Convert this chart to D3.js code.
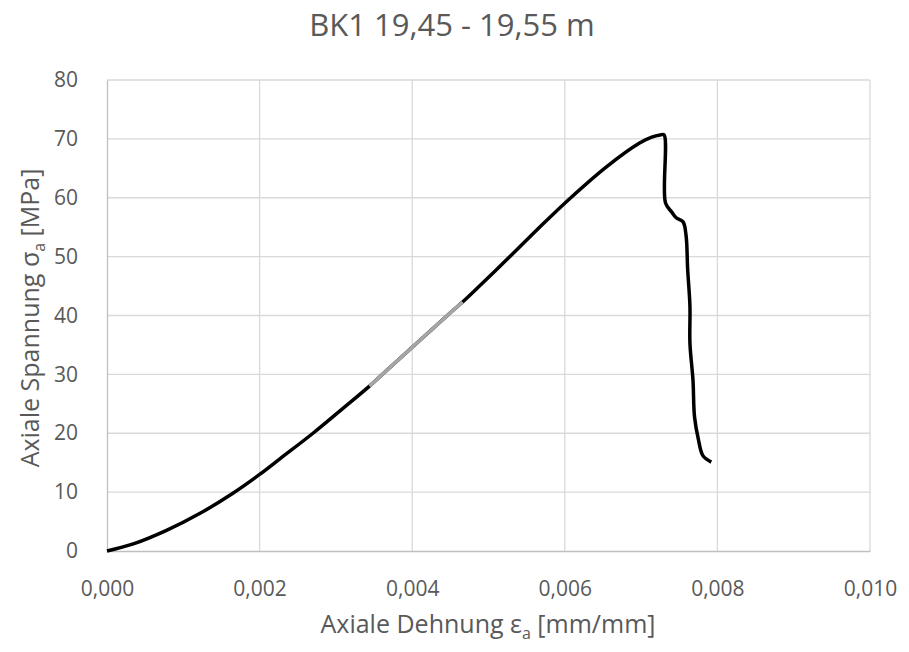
<!DOCTYPE html>
<meta charset="utf-8">
<script src="https://d3js.org/d3.v7.min.js"></script>
<style>
    body { margin: 0; background: #fff; }
    text { font-family: "Open Sans", "Noto Sans", sans-serif; fill: #595959; }
</style>
<div id="chart"></div>
<script>
    // measured curve (strain in mm/mm, stress in MPa)
    const strain = [0, 0.000345, 0.00078, 0.00122, 0.00166, 0.00200, 0.00227, 0.00270, 0.00310,
        0.00344, 0.00360, 0.00400, 0.00446, 0.00466, 0.00480, 0.00524, 0.00567, 0.00606,
        0.00655, 0.00698, 0.00714, 0.00725, 0.00730,
        0.00732, 0.00740, 0.00746, 0.00755, 0.00759, 0.00761, 0.00764, 0.00764,
        0.00768, 0.00770, 0.00775, 0.00781, 0.00792];
    const stress = [0, 1.2, 3.5, 6.4, 9.9, 13.0, 15.7, 20.0, 24.3,
        28.0, 29.9, 34.6, 40.0, 42.3, 44.0, 49.5, 55.0, 59.8,
        65.3, 69.3, 70.3, 70.66, 70.7,
        59.1, 57.6, 56.6, 55.9, 53.5, 47.9, 41.6, 35.3,
        29.0, 22.8, 19.0, 16.2, 15.1];
    // strain range used for the modulus (drawn grey)
    const modulusRange = [0.00344, 0.00466];

    const xTicks = [0, 0.002, 0.004, 0.006, 0.008, 0.010];
    const yTicks = [0, 10, 20, 30, 40, 50, 60, 70, 80];

    const W = 909, H = 652;
    const margin = {top: 80, right: 39, bottom: 101, left: 107};
    const width = W - margin.left - margin.right,
          height = H - margin.top - margin.bottom;

    const svg = d3.select("#chart").append("svg")
        .attr("width", W).attr("height", H);

    const g = svg.append("g")
        .attr("transform", `translate(${margin.left},${margin.top})`);

    const x = d3.scaleLinear().domain([0, 0.010]).range([0, width]);
    const y = d3.scaleLinear().domain([0, 80]).range([height, 0]);

    // gridlines
    g.selectAll(".hgrid").data(yTicks.slice(1)).join("line")
        .attr("x1", 0).attr("x2", width)
        .attr("y1", d => y(d)).attr("y2", d => y(d))
        .style("stroke", "#d9d9d9").style("stroke-width", 1.3);
    g.selectAll(".vgrid").data(xTicks.slice(1)).join("line")
        .attr("y1", 0).attr("y2", height)
        .attr("x1", d => x(d)).attr("x2", d => x(d))
        .style("stroke", "#d9d9d9").style("stroke-width", 1.3);

    // axes
    const xAxis = g.append("g").attr("transform", `translate(0,${height})`)
        .call(d3.axisBottom(x).tickValues(xTicks).tickSize(0).tickPadding(30)
            .tickFormat(d => d3.format(".3f")(d).replace(".", ",")));
    const yAxis = g.append("g")
        .call(d3.axisLeft(y).tickValues(yTicks).tickSize(0).tickPadding(29));
    [xAxis, yAxis].forEach(a => {
        a.select(".domain").style("stroke", "#bfbfbf").style("stroke-width", 1.3);
        a.selectAll("text").style("font-size", "21px").style("fill", "#595959")
            .style("font-family", '"Open Sans", sans-serif');
    });

    const data = strain.map((s, i) => ({e: s, s: stress[i]}));
    const line = d3.line().x(d => x(d.e)).y(d => y(d.s))
        .curve(d3.curveCatmullRom.alpha(0.5));

    g.append("path").datum(data)
        .attr("d", line)
        .style("fill", "none").style("stroke", "#000")
        .style("stroke-width", 3.5).style("stroke-linejoin", "round");

    g.append("path").datum(data.filter(d => d.e >= modulusRange[0] && d.e <= modulusRange[1]))
        .attr("d", line)
        .style("fill", "none").style("stroke", "#a6a6a6")
        .style("stroke-width", 3.5);

    // title
    svg.append("text")
        .attr("x", 452).attr("y", 36)
        .attr("text-anchor", "middle")
        .style("font-size", "31px")
        .text("BK1 19,45 - 19,55 m");

    // axis titles
    const xt = svg.append("text")
        .attr("x", 488).attr("y", 633)
        .attr("text-anchor", "middle")
        .style("font-size", "25px");
    xt.append("tspan").text("Axiale Dehnung ε");
    xt.append("tspan").attr("dy", 6).style("font-size", "16px").text("a");
    xt.append("tspan").attr("dy", -6).text(" [mm/mm]");

    const yt = svg.append("text")
        .attr("transform", "translate(39,318) rotate(-90)")
        .attr("text-anchor", "middle")
        .style("font-size", "25px");
    yt.append("tspan").text("Axiale Spannung σ");
    yt.append("tspan").attr("dy", 6).style("font-size", "16px").text("a");
    yt.append("tspan").attr("dy", -6).text(" [MPa]");
</script>
